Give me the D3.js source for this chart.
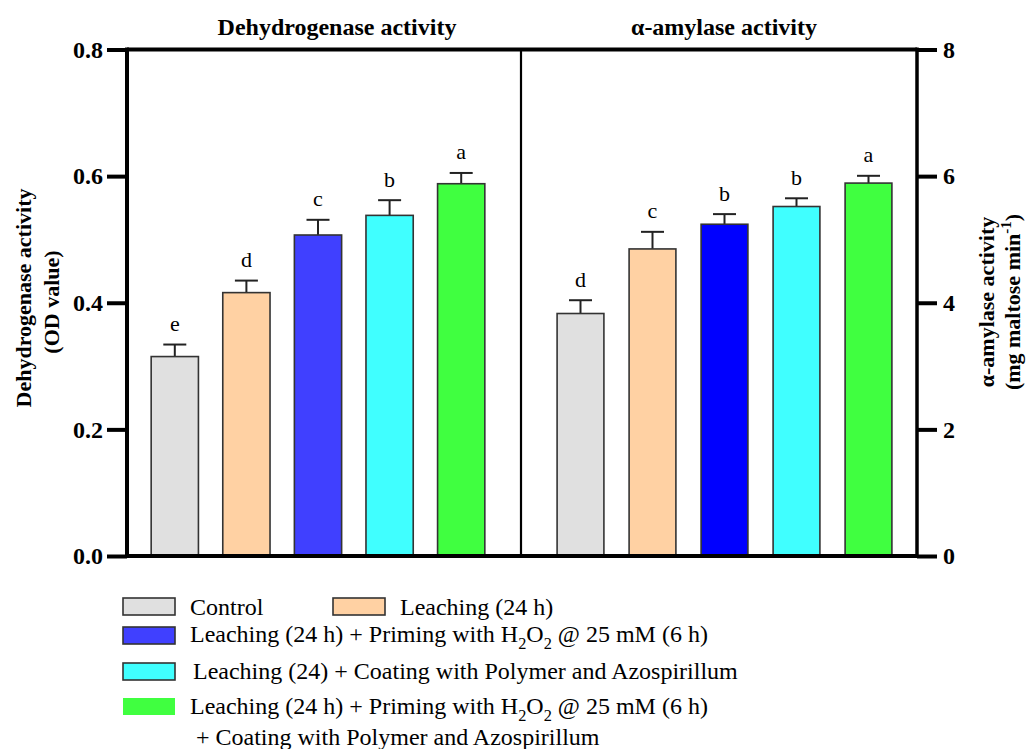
<!DOCTYPE html>
<html>
<head>
<meta charset="utf-8">
<script src="https://cdn.jsdelivr.net/npm/d3@7"></script>
<style>
  body { margin: 0; background: #fff; }
  text { font-family: "Liberation Serif", "Times New Roman", serif; fill: #000; }
</style>
</head>
<body>
<div id="chart"></div>
<script>
// ---- data ----
var treatments = ["Control", "Leaching", "Leaching + Priming", "Leaching + Coating", "Leaching + Priming + Coating"];

var dehydrogenase = [0.315, 0.416, 0.507, 0.538, 0.588];
var dehydrogenaseErr = [0.019, 0.019, 0.024, 0.024, 0.017];
var dehydrogenaseLetters = ["e", "d", "c", "b", "a"];

var amylase = [3.83, 4.85, 5.24, 5.52, 5.89];
var amylaseErr = [0.21, 0.27, 0.16, 0.13, 0.115];
var amylaseLetters = ["d", "c", "b", "b", "a"];

var leftTicks = [0, 0.2, 0.4, 0.6, 0.8];
var rightTicks = [0, 2, 4, 6, 8];

var leftColors = ["#e0e0e0", "#ffd1a3", "#4040ff", "#40ffff", "#40ff40"];
var rightColors = ["#e0e0e0", "#ffd1a3", "#0000ff", "#40ffff", "#40ff40"];

var legendLabels = [
  "Control",
  "Leaching (24 h)",
  "Leaching (24 h) + Priming with H_{2}O_{2} @ 25 mM (6 h)",
  "Leaching (24) + Coating with Polymer and Azospirillum",
  "Leaching (24 h) + Priming with H_{2}O_{2} @ 25 mM (6 h)"
];
var legendExtra = "+ Coating with Polymer and Azospirillum";

// ---- layout ----
var W = 1030, H = 749;
var xLeftAxis = 127, xDivider = 521, xRightAxis = 917;

var svg = d3.select("#chart").append("svg")
    .attr("width", W)
    .attr("height", H);

var yL = d3.scaleLinear().domain([0, 0.8]).range([556, 49.5]);
var yR = d3.scaleLinear().domain([0, 8]).range([556, 49.5]);

var xL = d3.scaleBand().domain(treatments).range([139, 497]).paddingInner(0.34).paddingOuter(0.17);
var xR = d3.scaleBand().domain(treatments).range([544.5, 904.5]).paddingInner(0.35).paddingOuter(0.175);

// small helper: "_{x}" subscript, "^{x}" superscript
function richText(textSel, str, size) {
  var parts = str.split(/(_\{[^}]*\}|\^\{[^}]*\})/).filter(function(p) { return p.length; });
  var shift = 0;
  parts.forEach(function(p) {
    var t = textSel.append("tspan");
    if (p[0] === "_" || p[0] === "^") {
      var dy = p[0] === "_" ? size * 0.3 : -size * 0.4;
      t.attr("dy", dy - shift).style("font-size", (size * 0.68) + "px").text(p.slice(2, -1));
      shift = dy;
    } else {
      t.attr("dy", -shift).text(p);
      shift = 0;
    }
  });
}

// ---- bars ----
function drawPanel(x, y, values, errs, letters, colors) {
  var g = svg.append("g");

  // error bars
  g.selectAll(".err")
    .data(values)
    .enter()
    .append("line")
      .attr("x1", function(d, i) { return x(treatments[i]) + x.bandwidth() / 2; })
      .attr("x2", function(d, i) { return x(treatments[i]) + x.bandwidth() / 2; })
      .attr("y1", function(d) { return y(d); })
      .attr("y2", function(d, i) { return y(d + errs[i]); })
      .attr("stroke", "#222")
      .attr("stroke-width", 2);
  g.selectAll(".cap")
    .data(values)
    .enter()
    .append("line")
      .attr("x1", function(d, i) { return x(treatments[i]) + x.bandwidth() / 2 - 11.5; })
      .attr("x2", function(d, i) { return x(treatments[i]) + x.bandwidth() / 2 + 11.5; })
      .attr("y1", function(d, i) { return y(d + errs[i]); })
      .attr("y2", function(d, i) { return y(d + errs[i]); })
      .attr("stroke", "#222")
      .attr("stroke-width", 2);

  g.selectAll(".bar")
    .data(values)
    .enter()
    .append("rect")
      .attr("x", function(d, i) { return x(treatments[i]); })
      .attr("y", function(d) { return y(d); })
      .attr("width", x.bandwidth())
      .attr("height", function(d) { return y(0) - y(d); })
      .attr("fill", function(d, i) { return colors[i]; })
      .attr("stroke", "#333")
      .attr("stroke-width", 1.6);

  g.selectAll(".letter")
    .data(values)
    .enter()
    .append("text")
      .attr("x", function(d, i) { return x(treatments[i]) + x.bandwidth() / 2; })
      .attr("y", function(d, i) { return y(d + errs[i]) - 13.5; })
      .attr("text-anchor", "middle")
      .style("font-size", "22px")
      .text(function(d, i) { return letters[i]; });
}

drawPanel(xL, yL, dehydrogenase, dehydrogenaseErr, dehydrogenaseLetters, leftColors);
drawPanel(xR, yR, amylase, amylaseErr, amylaseLetters, rightColors);

// ---- frame ----
svg.append("line").attr("x1", xLeftAxis).attr("x2", xRightAxis).attr("y1", yL(0.8)).attr("y2", yL(0.8))
    .attr("stroke", "#000").attr("stroke-width", 4);
svg.append("line").attr("x1", xLeftAxis).attr("x2", xRightAxis).attr("y1", yL(0)).attr("y2", yL(0))
    .attr("stroke", "#000").attr("stroke-width", 4);
svg.append("line").attr("x1", xLeftAxis).attr("x2", xLeftAxis).attr("y1", yL(0.8) - 2).attr("y2", yL(0) + 2)
    .attr("stroke", "#000").attr("stroke-width", 4);
svg.append("line").attr("x1", xRightAxis).attr("x2", xRightAxis).attr("y1", yL(0.8) - 2).attr("y2", yL(0) + 2)
    .attr("stroke", "#000").attr("stroke-width", 3.5);
svg.append("line").attr("x1", xDivider).attr("x2", xDivider).attr("y1", yL(0.8)).attr("y2", yL(0))
    .attr("stroke", "#000").attr("stroke-width", 2.2);

// ---- axes ----
var axL = svg.append("g")
    .attr("transform", "translate(" + xLeftAxis + ",0)")
    .call(d3.axisLeft(yL).tickValues(leftTicks).tickSize(20).tickPadding(4).tickFormat(d3.format(".1f")));
var axR = svg.append("g")
    .attr("transform", "translate(" + xRightAxis + ",0)")
    .call(d3.axisRight(yR).tickValues(rightTicks).tickSize(20).tickPadding(6).tickFormat(d3.format("d")));
[axL, axR].forEach(function(a) {
  a.select(".domain").remove();
  a.selectAll(".tick line").attr("stroke", "#000").attr("stroke-width", 4);
  a.selectAll(".tick text")
    .attr("fill", "#000")
    .style("font-family", '"Liberation Serif", "Times New Roman", serif')
    .style("font-size", "24px")
    .style("font-weight", "bold");
});

// ---- titles ----
svg.append("text").attr("x", 337).attr("y", 35).attr("text-anchor", "middle")
    .style("font-size", "24px").style("font-weight", "bold").text("Dehydrogenase activity");
svg.append("text").attr("x", 724).attr("y", 35).attr("text-anchor", "middle")
    .style("font-size", "24px").style("font-weight", "bold").text("α-amylase activity");

// ---- y labels ----
svg.append("text").attr("transform", "translate(31,298) rotate(-90)").attr("text-anchor", "middle")
    .style("font-size", "22px").style("font-weight", "bold").text("Dehydrogenase activity");
svg.append("text").attr("transform", "translate(59,302) rotate(-90)").attr("text-anchor", "middle")
    .style("font-size", "22px").style("font-weight", "bold").text("(OD value)");
svg.append("text").attr("transform", "translate(994,302) rotate(-90)").attr("text-anchor", "middle")
    .style("font-size", "22px").style("font-weight", "bold").text("α-amylase activity");
var rl = svg.append("text").attr("transform", "translate(1020,302) rotate(-90)").attr("text-anchor", "middle")
    .style("font-size", "22px").style("font-weight", "bold");
richText(rl, "(mg maltose min^{-1})", 22);

// ---- legend ----
var legendItems = [
  { sx: 123, sy: 598, tx: 190, ty: 615, color: leftColors[0], stroke: true },
  { sx: 333, sy: 598, tx: 400, ty: 615, color: leftColors[1], stroke: true },
  { sx: 123, sy: 627, tx: 190, ty: 642, color: leftColors[2], stroke: true },
  { sx: 123, sy: 663, tx: 193, ty: 679, color: leftColors[3], stroke: true },
  { sx: 123, sy: 698, tx: 190, ty: 714, color: leftColors[4], stroke: false }
];
var lg = svg.append("g");
legendItems.forEach(function(it, i) {
  lg.append("rect")
    .attr("x", it.sx).attr("y", it.sy).attr("width", 52).attr("height", 17)
    .attr("fill", it.color)
    .attr("stroke", it.stroke ? "#333" : "none")
    .attr("stroke-width", 1.6);
  var t = lg.append("text").attr("x", it.tx).attr("y", it.ty).style("font-size", "24px");
  richText(t, legendLabels[i], 24);
});
lg.append("text").attr("x", 196).attr("y", 745).style("font-size", "24px").text(legendExtra);
</script>
</body>
</html>
